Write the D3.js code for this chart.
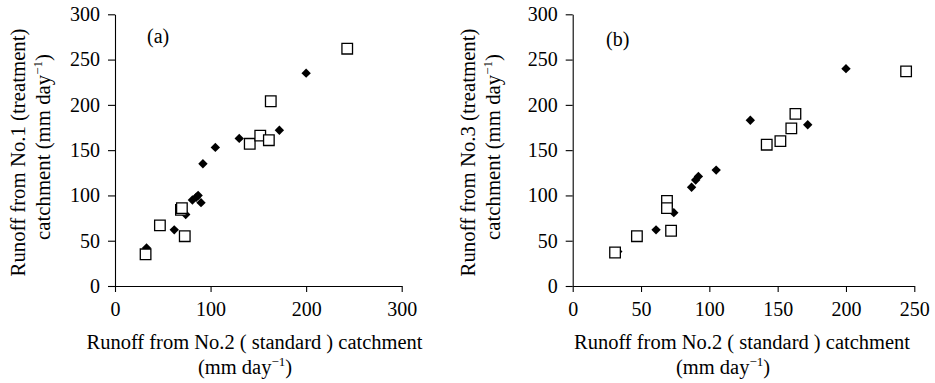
<!DOCTYPE html>
<html><head><meta charset="utf-8">
<script src="https://cdn.jsdelivr.net/npm/d3@7"></script>
<style>
html,body{margin:0;padding:0;background:#fff;}
</style></head>
<body><svg id="c" width="935" height="383"></svg>
<script>
// ---- data ----
// Panel (a): x = Runoff No.2, y = Runoff No.1
const aDiamondX = [33, 62, 74, 81, 85, 87, 90, 92, 105, 130, 172, 200];
const aDiamondY = [42, 62, 79, 95, 98, 100, 92, 135, 153, 163, 172, 235];
const aSquareX  = [32, 47, 69, 70, 73, 141, 152, 161, 163, 243];
const aSquareY  = [35, 67, 84, 86, 55, 157, 166, 161, 204, 262];
// Panel (b): x = Runoff No.2, y = Runoff No.3
const bDiamondX = [33, 61, 74, 87, 90, 92, 105, 130, 172, 200];
const bDiamondY = [38, 62, 81, 109, 117, 121, 128, 183, 178, 240];
const bSquareX  = [31, 47, 69, 69, 72, 142, 152, 160, 163, 244];
const bSquareY  = [37, 55, 94, 86, 61, 156, 160, 174, 190, 237];
// ticks
const yTicks  = [0, 50, 100, 150, 200, 250, 300];
const aXTicks = [0, 100, 200, 300];
const bXTicks = [0, 50, 100, 150, 200, 250];
const xTitle = "Runoff from No.2 ( standard ) catchment";
const aYTitle = "Runoff from No.1 (treatment)";
const bYTitle = "Runoff from No.3 (treatment)";

const FONT = '"Liberation Serif","Times New Roman",Times,serif';
const svg = d3.select("#c");

function panel(o){
  const g = svg.append("g");
  const x = d3.scaleLinear().domain(o.xDomain).range([o.x0, o.x1]);
  const y = d3.scaleLinear().domain([0, 300]).range([286, 14.3]);

  const yAx = g.append("g").attr("transform", `translate(${o.x0},0)`)
    .call(d3.axisLeft(y).tickValues(yTicks).tickSize(7).tickPadding(8).tickSizeOuter(0));
  const xAx = g.append("g").attr("transform", `translate(0,286)`)
    .call(d3.axisBottom(x).tickValues(o.xTicks).tickSize(6).tickPadding(10).tickSizeOuter(0));
  [yAx, xAx].forEach(a=>{
    a.attr("font-family", FONT).attr("font-size", 20);
    a.selectAll("path,line").attr("stroke","#000").attr("stroke-width",1.1);
    a.selectAll("text").attr("fill","#000");
  });

  const dia = d3.symbol().type(d3.symbolSquare).size(44);
  const sq = d3.symbol().type(d3.symbolSquare).size(112);

  g.selectAll(".d").data(o.dx.map((v,i)=>[v,o.dy[i]])).join("path")
    .attr("d", dia)
    .attr("transform", d=>`translate(${x(d[0])},${y(d[1])}) rotate(45)`)
    .attr("fill","#000");
  g.selectAll(".s").data(o.sx.map((v,i)=>[v,o.sy[i]])).join("path")
    .attr("d", sq)
    .attr("transform", d=>`translate(${x(d[0])},${y(d[1])})`)
    .attr("fill","#fff").attr("stroke","#000").attr("stroke-width",1.3);

  const T = g.append("g").attr("font-family", FONT).attr("fill","#000");
  T.append("text").attr("x", o.labX).attr("y", o.labY).attr("font-size",20).text(o.label);

  // x title
  T.append("text").attr("x", o.xt1).attr("y", 349).attr("text-anchor","middle")
    .attr("font-size",20.5).text(xTitle);
  const t2 = T.append("text").attr("x", o.xt2).attr("y", 374).attr("text-anchor","middle")
    .attr("font-size",20.5);
  t2.append("tspan").text("(mm day");
  t2.append("tspan").attr("dy",-8).attr("font-size",13).text("\u22121");
  t2.append("tspan").attr("dy",8).text(")");

  // y title
  T.append("text").attr("transform", `translate(${o.yt1x},${o.yt1c}) rotate(-90)`)
    .attr("text-anchor","middle").attr("font-size",20.8).text(o.yTitle);
  const y2 = T.append("text").attr("transform", `translate(${o.yt2x},${o.yt2c}) rotate(-90)`)
    .attr("text-anchor","middle").attr("font-size",20.8);
  y2.append("tspan").text("catchment (mm day");
  y2.append("tspan").attr("dy",-8).attr("font-size",13).text("\u22121");
  y2.append("tspan").attr("dy",8).text(")");
}

panel({xDomain:[0,300], x0:115, x1:401.7, xTicks:aXTicks,
  dx:aDiamondX, dy:aDiamondY, sx:aSquareX, sy:aSquareY,
  label:"(a)", labX:147, labY:43,
  xt1:254.5, xt2:245, yTitle:aYTitle, yt1x:25, yt1c:152.5, yt2x:50, yt2c:147});
panel({xDomain:[0,250], x0:572.7, x1:914.3, xTicks:bXTicks,
  dx:bDiamondX, dy:bDiamondY, sx:bSquareX, sy:bSquareY,
  label:"(b)", labX:606, labY:46,
  xt1:742, xt2:723, yTitle:bYTitle, yt1x:475, yt1c:152.5, yt2x:500, yt2c:147});
</script></body></html>
